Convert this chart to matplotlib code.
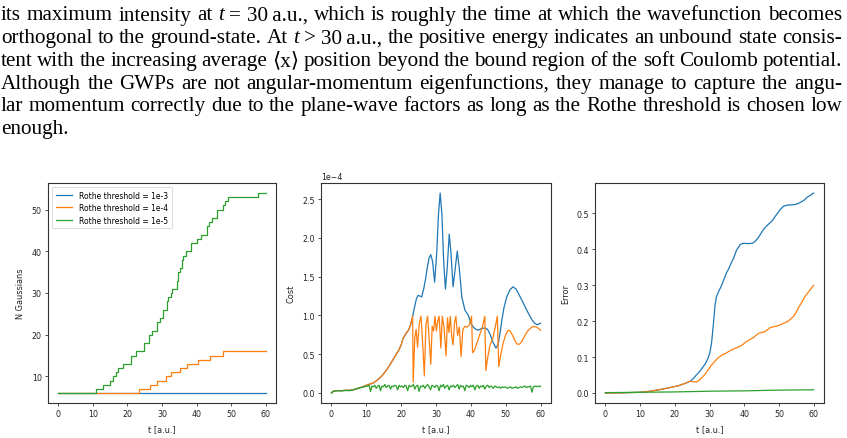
import numpy as np
import matplotlib
matplotlib.use("Agg")
import matplotlib.pyplot as plt

# ---------------- data ----------------
labels = ["Rothe threshold = 1e-3", "Rothe threshold = 1e-4", "Rothe threshold = 1e-5"]
colors = ["#1f77b4", "#ff7f0e", "#2ca02c"]

# N Gaussians (step functions): change times and new values
t_end = 60.0
blue_n_t = [0.0]
blue_n_v = [6]
orange_n_t = [0.0, 23.4, 26.5, 28.5, 31.3, 32.5, 35.1, 37.3, 40.3, 43.8, 47.7]
orange_n_v = [6, 7, 8, 9, 10, 11, 12, 13, 14, 15, 16]
green_n_t = [0.0, 10.9, 13.0, 15.0, 15.7, 16.7, 17.4, 18.6, 21.0, 22.5, 24.9, 26.3, 27.0,
             28.5, 29.4, 30.2, 31.4, 31.8, 32.5, 33.0, 34.2, 34.7, 35.2, 35.8, 36.2, 36.9,
             38.4, 40.0, 41.2, 42.9, 43.7, 44.5, 46.0, 47.6, 48.2, 49.2, 57.9]
green_n_v = [6, 7, 8, 9, 10, 11, 12, 13, 15, 16, 18, 20, 21,
             23, 24, 26, 28, 29, 30, 31, 33, 35, 36, 38, 39, 40,
             42, 43, 44, 46, 47, 48, 50, 51, 52, 53, 54]

# Cost (units of 1e-4)
cost_common_t = [0, 0.5, 1, 2, 3, 4, 5, 6, 7, 8, 9, 10, 11, 12, 13, 14, 15, 16, 17, 17.8, 18.6,
                 19.3, 20.0, 20.5, 21.0, 21.6, 22.1, 22.7, 23.3]
cost_common_v = [0.0, 0.02, 0.03, 0.03, 0.03, 0.035, 0.035, 0.04, 0.05, 0.065, 0.08, 0.1, 0.115,
                 0.13, 0.16, 0.2, 0.25, 0.31, 0.38, 0.44, 0.5, 0.55, 0.62, 0.7, 0.74, 0.78, 0.81,
                 0.88, 0.99]
cost_blue_t = [23.8, 24.4, 24.9, 25.4, 25.9, 26.5, 27.0, 27.5, 28.0, 28.5, 29.0, 29.6, 30.2,
               30.7, 31.2, 31.7, 32.2, 32.7, 33.2, 33.8, 34.3, 34.9, 35.5, 36.1, 36.7, 37.4,
               38.3, 39.3, 40.0, 40.7, 41.5, 42.1, 43.0, 44.1, 44.8, 45.5, 46.3, 47.2, 47.8,
               48.4, 48.9, 49.5, 50.3, 51.2, 52.1, 53.0, 53.7, 54.6, 55.6, 56.6, 57.6, 58.3,
               59.0, 60.0]
cost_blue_v = [1.1, 1.22, 1.26, 1.25, 1.24, 1.35, 1.47, 1.62, 1.74, 1.785, 1.7, 1.43, 1.8,
               2.3, 2.58, 2.3, 1.7, 1.34, 1.6, 2.05, 1.8, 1.37, 1.6, 1.83, 1.6, 1.24,
               1.07, 1.0, 0.9, 0.85, 0.82, 0.81, 0.83, 0.84, 0.82, 0.76, 0.66, 0.58, 0.62,
               0.78, 0.94, 1.1, 1.24, 1.33, 1.37, 1.34, 1.28, 1.2, 1.11, 1.02, 0.94, 0.9,
               0.88, 0.9]
cost_orange_t = [23.45, 23.9, 24.3, 24.7, 25.2, 25.7, 26.2, 26.65, 27.1, 27.6, 28.1, 28.5, 28.9,
                 29.3, 29.7, 30.1, 30.5, 30.9, 31.4, 31.8, 32.3, 32.9, 33.3, 33.7, 34.1, 34.5,
                 34.9, 35.3, 35.7, 36.2, 36.7, 37.2, 37.7, 38.3, 38.9, 39.6, 40.2, 40.5, 41.0,
                 41.8, 42.6, 43.3, 44.0, 44.3, 44.8, 45.5, 46.3, 47.0, 47.6, 48.0, 48.6, 49.3,
                 50.0, 50.7, 51.3, 52.0, 52.7, 53.3, 54.0, 54.7, 55.5, 56.3, 57.2, 58.0, 58.8,
                 59.5, 60.0]
cost_orange_v = [0.14, 0.70, 0.82, 0.59, 0.90, 0.99, 0.62, 0.22, 0.88, 0.99, 0.65, 0.37, 0.86,
                 0.80, 0.99, 0.80, 0.93, 0.99, 0.58, 0.99, 0.85, 0.48, 0.97, 0.78, 0.99, 0.73,
                 0.62, 0.90, 0.99, 0.74, 0.85, 0.47, 0.82, 0.86, 0.85, 0.88, 0.99, 0.52, 0.55,
                 0.65, 0.76, 0.85, 0.99, 0.29, 0.45, 0.62, 0.70, 0.85, 0.99, 0.34, 0.50, 0.65,
                 0.75, 0.81, 0.80, 0.74, 0.67, 0.63, 0.63, 0.67, 0.74, 0.80, 0.84, 0.86, 0.85,
                 0.83, 0.81]
cost_green_early_t = [0, 0.4, 1, 2, 3, 4, 5, 6, 6.5, 7.5, 8.5, 9.5, 10.4]
cost_green_early_v = [0.0, 0.02, 0.025, 0.03, 0.028, 0.032, 0.03, 0.035, 0.045, 0.06, 0.07, 0.08, 0.09]
cost_green_noise_v = [
    0.10, 0.02, 0.09, 0.08, 0.10, 0.06, 0.09, 0.10, 0.03, 0.09, 0.08, 0.11, 0.07, 0.09, 0.10, 0.05,
    0.09, 0.08, 0.10, 0.09, 0.04, 0.10, 0.08, 0.09,
    0.07, 0.10, 0.09, 0.03, 0.10, 0.08, 0.09, 0.11, 0.05, 0.09, 0.10, 0.02, 0.09, 0.08, 0.10, 0.06,
    0.09, 0.11, 0.08, 0.04, 0.10, 0.09, 0.07, 0.10,
    0.09, 0.03, 0.10, 0.08, 0.11, 0.06, 0.09, 0.10, 0.04, 0.09, 0.08, 0.10, 0.07, 0.09, 0.11, 0.05,
    0.10, 0.08, 0.09, 0.03, 0.10, 0.09, 0.07, 0.10,
    0.08, 0.10, 0.04, 0.09, 0.10, 0.06, 0.09, 0.08, 0.10, 0.05, 0.09, 0.10, 0.07, 0.09, 0.08, 0.06,
    0.09, 0.08, 0.07, 0.08, 0.06, 0.08, 0.07, 0.08,
    0.07, 0.06, 0.07, 0.08, 0.06, 0.07, 0.07, 0.08, 0.06, 0.07, 0.08, 0.07, 0.08, 0.09, 0.07, 0.08,
    0.08, 0.09, 0.01, 0.08, 0.09, 0.08, 0.09, 0.08, 0.09]
cost_green_noise_start = 10.8

# Error
err_common_t = [0, 5, 10, 13, 16, 19, 21, 23, 24.5]
err_common_v = [0.0, 0.0005, 0.002, 0.005, 0.01, 0.016, 0.02, 0.027, 0.033]
err_blue_t = [25.5, 26.3, 27.0, 27.7, 28.7, 29.5, 30.1, 30.6, 31.1, 31.6, 32.0, 32.5, 33.5,
              34.9, 35.5, 36.4, 37.0, 37.8, 38.9, 39.8, 41.0, 42.4, 43.1, 44.1, 45.0, 46.0,
              47.0, 48.0, 49.4, 50.3, 51.3, 52.3, 53.5, 54.7, 55.6, 56.6, 57.4, 58.1, 59.0, 60.0]
err_blue_v = [0.042, 0.051, 0.058, 0.067, 0.08, 0.095, 0.112, 0.14, 0.19, 0.245, 0.268, 0.28,
              0.30, 0.335, 0.345, 0.365, 0.377, 0.398, 0.414, 0.417, 0.416, 0.417, 0.422, 0.433,
              0.447, 0.461, 0.47, 0.479, 0.498, 0.51, 0.52, 0.523, 0.524, 0.525, 0.528, 0.533,
              0.538, 0.545, 0.55, 0.557]
err_orange_t = [25.5, 26.3, 27.0, 27.7, 28.7, 29.5, 30.6, 31.5, 32.5, 33.5, 34.9, 36.3, 37.8,
                39.2, 40.7, 42.6, 44.1, 46.0, 47.5, 49.9, 52.3, 53.3, 54.3, 55.0, 55.7, 56.7,
                57.6, 58.8, 60.0]
err_orange_v = [0.031, 0.031, 0.035, 0.042, 0.052, 0.063, 0.078, 0.088, 0.098, 0.105, 0.112,
                0.12, 0.126, 0.132, 0.144, 0.154, 0.166, 0.171, 0.182, 0.188, 0.198, 0.205,
                0.214, 0.225, 0.238, 0.255, 0.27, 0.285, 0.3]
err_green_t = [0, 10, 20, 30, 40, 50, 60]
err_green_v = [0.001, 0.002, 0.003, 0.005, 0.006, 0.008, 0.009]

paragraph = [
    [("its", "n"), ("maximum", "n"), ("intensity", "n"), ("at", "n"), ("t", "i"), ("=", "n"),
     ("30\u2009a.u.,", "n"), ("which", "n"), ("is", "n"), ("roughly", "n"), ("the", "n"),
     ("time", "n"), ("at", "n"), ("which", "n"), ("the", "n"), ("wavefunction", "n"), ("becomes", "n")],
    [("orthogonal", "n"), ("to", "n"), ("the", "n"), ("ground-state.", "n"), ("At", "n"), ("t", "i"),
     (">", "n"), ("30\u2009a.u.,", "n"), ("the", "n"), ("positive", "n"), ("energy", "n"),
     ("indicates", "n"), ("an", "n"), ("unbound", "n"), ("state", "n"), ("consis-", "n")],
    [("tent", "n"), ("with", "n"), ("the", "n"), ("increasing", "n"), ("average", "n"),
     ("\u27e8x\u27e9", "b"), ("position", "n"), ("beyond", "n"), ("the", "n"), ("bound", "n"),
     ("region", "n"), ("of", "n"), ("the", "n"), ("soft", "n"), ("Coulomb", "n"), ("potential.", "n")],
    [("Although", "n"), ("the", "n"), ("GWPs", "n"), ("are", "n"), ("not", "n"),
     ("angular-momentum", "n"), ("eigenfunctions,", "n"), ("they", "n"), ("manage", "n"),
     ("to", "n"), ("capture", "n"), ("the", "n"), ("angu-", "n")],
    [("lar", "n"), ("momentum", "n"), ("correctly", "n"), ("due", "n"), ("to", "n"), ("the", "n"),
     ("plane-wave", "n"), ("factors", "n"), ("as", "n"), ("long", "n"), ("as", "n"), ("the", "n"),
     ("Rothe", "n"), ("threshold", "n"), ("is", "n"), ("chosen", "n"), ("low", "n")],
    [("enough.", "n")],
]

# ---------------- figure ----------------
W, H = 847, 439
fig = plt.figure(figsize=(W / 100, H / 100), dpi=100)
renderer = fig.canvas.get_renderer()

serif = ["Liberation Serif", "DejaVu Serif", "DejaVu Sans"]


def make_token(txt, style, size):
    kw = dict(family=serif, fontsize=size, va="baseline", ha="left")
    if style == "i":
        kw["style"] = "italic"
    return fig.text(0, 0, txt, **kw)


# pick a font size so the widest line fits with a normal word space
base = 10.0
space_em = 0.22
widest = 0
for line in paragraph[:-1]:
    tot = 0
    for txt, st in line:
        t = make_token(txt, st, base)
        tot += t.get_window_extent(renderer).width
        t.remove()
    tot += (len(line) - 1) * space_em * base * 100 / 72
    widest = max(widest, tot)
x0, x1 = 1.0, 842.0
size = min(16.5, base * (x1 - x0) / widest)

baseline0 = 20.5
pitch = 22.7
for i, line in enumerate(paragraph):
    toks = [make_token(txt, st, size) for txt, st in line]
    widths = [t.get_window_extent(renderer).width for t in toks]
    y = 1 - (baseline0 + i * pitch) / H
    if i < len(paragraph) - 1 and len(toks) > 1:
        gap = ((x1 - x0) - sum(widths)) / (len(toks) - 1)
    else:
        gap = space_em * size * 100 / 72
    x = x0
    for t, w in zip(toks, widths):
        t.set_position((x / W, y))
        x += w + gap

# axes
fs_tick = 5.7
fs_lab = 5.9
panels = [(48, 276), (321, 551), (595, 824)]
top, bottom = 184, 404
axes = []
for l, r in panels:
    ax = fig.add_axes([l / W, 1 - bottom / H, (r - l) / W, (bottom - top) / H])
    for s in ax.spines.values():
        s.set_linewidth(0.8)
        s.set_color("#333333")
    ax.tick_params(labelsize=fs_tick, length=2.5, width=0.6, pad=2, colors="#333333",
                   labelcolor="#222222")
    ax.set_xlabel("t [a.u.]", fontsize=fs_lab, labelpad=4.5, color="#222222")
    ax.set_xticks([0, 10, 20, 30, 40, 50, 60])
    axes.append(ax)

lw = 0.9
# Panel 1: N Gaussians
ax = axes[0]
for tt, vv, c, lab in [(blue_n_t, blue_n_v, colors[0], labels[0]),
                       (orange_n_t, orange_n_v, colors[1], labels[1]),
                       (green_n_t, green_n_v, colors[2], labels[2])]:
    ax.step(list(tt) + [t_end], list(vv) + [vv[-1]], where="post", color=c, lw=lw, label=lab)
ax.set_ylabel("N Gaussians", fontsize=fs_lab, labelpad=5, color="#222222")
ax.set_yticks([10, 20, 30, 40, 50])
leg = ax.legend(loc="upper left", fontsize=5.5, handlelength=2.2, borderpad=0.5,
                labelspacing=0.45, framealpha=0.8)
leg.get_frame().set_linewidth(0.6)

# Panel 2: Cost
ax = axes[1]
scale = 1e-4
bt = np.array(cost_common_t + cost_blue_t)
bv = np.array(cost_common_v + cost_blue_v) * scale
ot = np.array(cost_common_t + cost_orange_t)
ov = np.array(cost_common_v + cost_orange_v) * scale
gt = np.concatenate([cost_green_early_t,
                     np.linspace(cost_green_noise_start, t_end, len(cost_green_noise_v))])
gv = np.array(cost_green_early_v + cost_green_noise_v) * scale
ax.plot(bt, bv, color=colors[0], lw=lw)
ax.plot(ot, ov, color=colors[1], lw=lw)
ax.plot(gt, gv, color=colors[2], lw=lw)
ax.set_ylabel("Cost", fontsize=fs_lab, labelpad=4.5, color="#222222")
ax.set_yticks(np.array([0, 0.5, 1.0, 1.5, 2.0, 2.5]) * scale)
ax.ticklabel_format(axis="y", style="sci", scilimits=(0, 0))
ax.yaxis.get_offset_text().set_fontsize(fs_tick)

# Panel 3: Error
ax = axes[2]
ax.plot(err_common_t + err_blue_t, err_common_v + err_blue_v, color=colors[0], lw=lw)
ax.plot(err_common_t + err_orange_t, err_common_v + err_orange_v, color=colors[1], lw=lw)
ax.plot(err_green_t, err_green_v, color=colors[2], lw=lw)
ax.set_ylabel("Error", fontsize=fs_lab, labelpad=4.5, color="#222222")
ax.set_yticks([0.0, 0.1, 0.2, 0.3, 0.4, 0.5])

fig.savefig("out.png", dpi=100)
